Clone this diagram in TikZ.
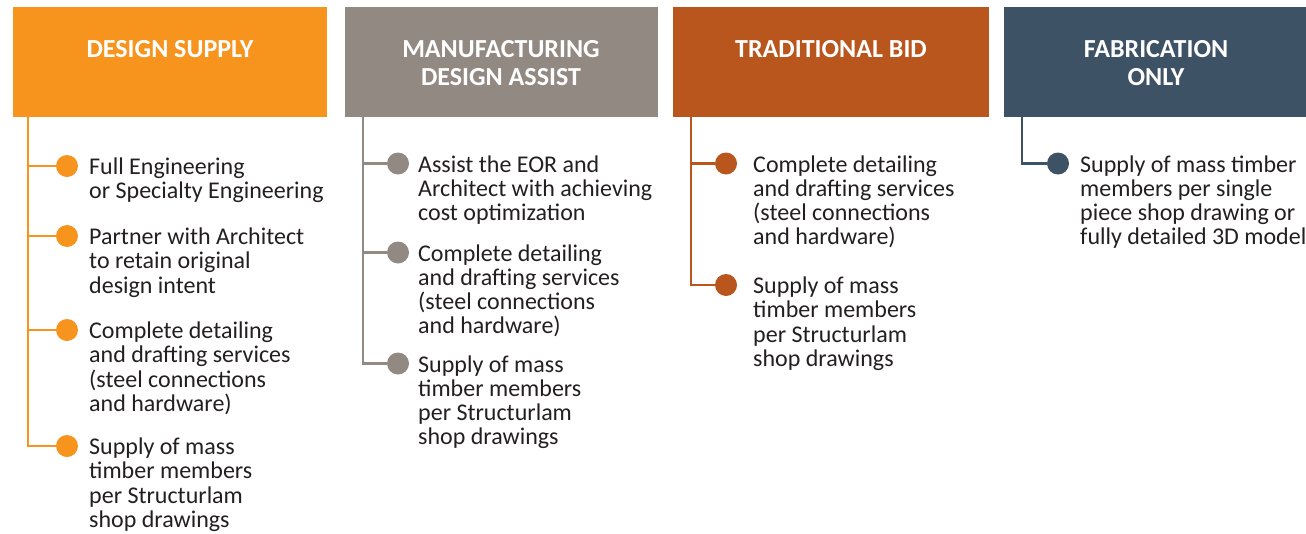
\documentclass[tikz,border=0pt]{standalone}
\usepackage{fontspec}
\setmainfont{Carlito}
\definecolor{cOrange}{RGB}{247,148,30}
\definecolor{cGray}{RGB}{146,137,131}
\definecolor{cRust}{RGB}{184,86,29}
\definecolor{cNavy}{RGB}{62,82,101}
\definecolor{cInk}{RGB}{35,31,32}
\newcommand\headtext[1]{\parbox[t]{300pt}{\centering\fontsize{26}{28}\selectfont\bfseries #1}}
\newcommand\itemtext[1]{\parbox[t]{260pt}{\raggedright\fontsize{24}{24.3}\selectfont #1}}
\begin{document}
\begin{tikzpicture}[x=1pt,y=-1pt,
  headbox/.style={fill=#1, draw=none, rectangle, inner sep=0, outer sep=0,
                  minimum height=109.5pt, anchor=north west},
  headlabel/.style={anchor=base, inner sep=0, text=white},
  dot/.style={circle, fill=#1, draw=none, minimum size=22pt, inner sep=0, outer sep=0},
  itemlabel/.style={anchor=base west, inner sep=0, text=cInk},
  link/.style={draw=#1, line width=2.2pt}]
\useasboundingbox (0,0) rectangle (1306,533);

% column headers
\node[headbox=cOrange, minimum width=314pt] (h1) at (13,7) {};
\node[headbox=cGray,   minimum width=313pt] (h2) at (345,7) {};
\node[headbox=cRust,   minimum width=316pt] (h3) at (673,7) {};
\node[headbox=cNavy,   minimum width=306pt] (h4) at (1004,7) {};

\node[headlabel] (t1) at (170,57)   {\headtext{DESIGN SUPPLY}};
\node[headlabel] (t2) at (501,57)   {\headtext{MANUFACTURING\\DESIGN ASSIST}};
\node[headlabel] (t3) at (831,57)   {\headtext{TRADITIONAL BID}};
\node[headlabel] (t4) at (1156,57)  {\headtext{FABRICATION\\ONLY}};

% Design supply
\node[dot=cOrange] (b11) at (67,166) {};
\node[dot=cOrange] (b12) at (67,236) {};
\node[dot=cOrange] (b13) at (67,330) {};
\node[dot=cOrange] (b14) at (67,446) {};
\node[itemlabel] (l11) at (89,174.5) {\itemtext{Full Engineering\\or Specialty Engineering}};
\node[itemlabel] (l12) at (89,244.5) {\itemtext{Partner with Architect\\to retain original\\design intent}};
\node[itemlabel] (l13) at (89,338.5) {\itemtext{Complete detailing\\and drafting services\\(steel connections\\and hardware)}};
\node[itemlabel] (l14) at (89,454.5) {\itemtext{Supply of mass\\timber members\\per Structurlam\\shop drawings}};
\foreach \k in {1,...,4}
  \draw[link=cOrange] ([xshift=15.3pt]h1.south west) |- (b1\k);

% Manufacturing design assist
\node[dot=cGray] (b21) at (398,163.5) {};
\node[dot=cGray] (b22) at (398,252.5) {};
\node[dot=cGray] (b23) at (398,363.5) {};
\node[itemlabel] (l21) at (418,172) {\itemtext{Assist the EOR and\\Architect with achieving\\cost optimization}};
\node[itemlabel] (l22) at (418,261) {\itemtext{Complete detailing\\and drafting services\\(steel connections\\and hardware)}};
\node[itemlabel] (l23) at (418,372) {\itemtext{Supply of mass\\timber members\\per Structurlam\\shop drawings}};
\foreach \k in {1,...,3}
  \draw[link=cGray] ([xshift=17.7pt]h2.south west) |- (b2\k);

% Traditional bid
\node[dot=cRust] (b31) at (726,163.5) {};
\node[dot=cRust] (b32) at (726,285) {};
\node[itemlabel] (l31) at (753,172) {\itemtext{Complete detailing\\and drafting services\\(steel connections\\and hardware)}};
\node[itemlabel] (l32) at (753,293.5) {\itemtext{Supply of mass\\timber members\\per Structurlam\\shop drawings}};
\foreach \k in {1,2}
  \draw[link=cRust] ([xshift=17.7pt]h3.south west) |- (b3\k);

% Fabrication only
\node[dot=cNavy] (b41) at (1058,163.5) {};
\node[itemlabel] (l41) at (1080,172) {\itemtext{Supply of mass timber\\members per single\\piece shop drawing or\\fully detailed 3D model}};
\draw[link=cNavy] ([xshift=17.7pt]h4.south west) |- (b41);
\end{tikzpicture}
\end{document}
